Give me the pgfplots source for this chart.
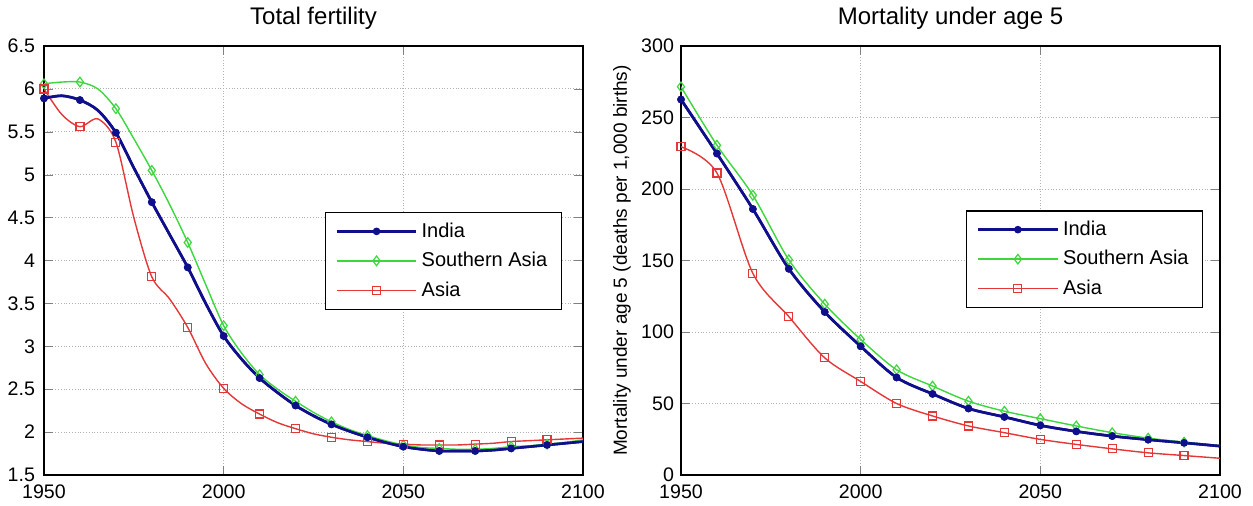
\documentclass[border=0pt]{standalone}
\usepackage{fontspec}
\setmainfont{Liberation Sans}
\usepackage{pgfplots}
\pgfplotsset{compat=1.18}
\definecolor{cIndia}{RGB}{15,15,140}
\definecolor{cSA}{RGB}{60,215,60}
\definecolor{cAsia}{RGB}{228,55,55}

\pgfplotstableread{
year india sa asia
1950 5.89 6.06 6.00
1955 5.92 6.08 5.70
1960 5.87 6.08 5.56
1965 5.75 6.00 5.65
1970 5.49 5.77 5.38
1975 5.08 5.42 4.50
1980 4.68 5.05 3.81
1985 4.30 4.65 3.55
1990 3.92 4.21 3.22
1995 3.50 3.72 2.80
2000 3.12 3.24 2.51
2005 2.85 2.92 2.33
2010 2.63 2.67 2.21
2015 2.46 2.50 2.11
2020 2.31 2.36 2.04
2025 2.19 2.23 1.98
2030 2.09 2.12 1.94
2035 2.01 2.03 1.91
2040 1.94 1.96 1.89
2045 1.88 1.90 1.87
2050 1.83 1.85 1.86
2055 1.80 1.82 1.85
2060 1.78 1.81 1.85
2065 1.78 1.80 1.85
2070 1.78 1.80 1.86
2075 1.79 1.81 1.87
2080 1.81 1.83 1.89
2085 1.83 1.84 1.90
2090 1.85 1.86 1.91
2095 1.87 1.88 1.92
2100 1.89 1.91 1.93
}\fert

\pgfplotstableread{
year india sa asia
1950 262.6 271.5 229.5
1960 224.8 230.6 211.2
1970 186.0 195.6 141.0
1980 144.2 150.5 110.8
1990 114.0 119.5 81.9
2000 90.0 94.8 65.4
2010 68.2 73.6 50.0
2020 56.7 62.2 41.3
2030 46.5 51.6 34.3
2040 40.6 44.6 29.6
2050 34.7 39.4 24.9
2060 30.5 34.3 21.4
2070 27.2 29.6 18.3
2080 24.7 25.8 15.5
2090 22.5 23.0 13.6
2100 20.2 20.5 11.7
}\mort

\pgfplotsset{
  mystyle/.style={
    scale only axis, width=269.5pt, height=214.5pt,
    xmin=1950, xmax=2100, xtick={1950,2000,2050,2100},
    grid=major, major grid style={densely dotted, gray!60, line width=0.5pt},
    tick align=inside, axis line style={line width=0.7pt},
    /pgf/number format/assume math mode=true,
    /pgf/number format/1000 sep={},
    ticklabel style={font=\fontsize{9.8}{12}\selectfont},
    xticklabel style={yshift=-1.5pt},
    title style={font=\fontsize{12}{14}\selectfont, at={(0.5,1)}, anchor=base, yshift=5pt},
    legend style={font=\fontsize{10}{12}\selectfont, draw=black, line width=0.6pt,
      inner xsep=5pt, inner ysep=3pt, row sep=2pt},
    legend cell align=left,
    legend image code/.code={\draw[mark indices={2}] plot coordinates {(0cm,0cm) (0.7cm,0cm) (1.4cm,0cm)};},
  },
  pIndia/.style={cIndia, line width=1.3pt, smooth, tension=0.5, mark=*, mark size=1.6pt, mark options={fill=cIndia, line width=0.6pt}},
  pSA/.style={cSA, line width=0.7pt, smooth, tension=0.5, mark=diamond, mark size=2.4pt, mark options={line width=0.6pt}},
  pAsia/.style={cAsia, line width=0.7pt, smooth, tension=0.5, mark=square, mark size=2pt, mark options={line width=0.6pt}},
}

\begin{document}
\begin{tikzpicture}
\path[use as bounding box] (-22pt,-15pt) rectangle (604.5pt,237.5pt);
\begin{axis}[mystyle, at={(0pt,0pt)}, anchor=south west,
  ymin=1.5, ymax=6.5, ytick={1.5,2,...,6.5},
  yticklabels={1.5,2,2.5,3,3.5,4,4.5,5,5.5,6,6.5},
  yticklabel style={xshift=-1pt},
  title={Total fertility},
  legend style={at={(0.521,0.613)}, anchor=north west}]
\addplot[pIndia, mark indices={1,3,5,7,9,11,13,15,17,19,21,23,25,27,29}] table[x=year,y=india] {\fert};
\addlegendentry{India}
\addplot[pSA, mark indices={1,3,5,7,9,11,13,15,17,19,21,23,25,27,29}] table[x=year,y=sa] {\fert};
\addlegendentry{Southern Asia\hspace{7pt}}
\addplot[pAsia, mark indices={1,3,5,7,9,11,13,15,17,19,21,23,25,27,29}] table[x=year,y=asia] {\fert};
\addlegendentry{Asia}
\addplot[pIndia, forget plot, mark indices={1,3,5,7,9,11,13,15,17,19,21,23,25,27,29}] table[x=year,y=india] {\fert};
\end{axis}
\begin{axis}[mystyle, at={(318.5pt,0pt)}, anchor=south west,
  ymin=0, ymax=300, ytick={0,50,...,300},
  title={Mortality under age 5},
  ylabel={Mortality under age 5 (deaths per 1,000 births)},
  ylabel style={font=\fontsize{9.5}{11}\selectfont, at={(axis description cs:-0.1095,0.5)}, anchor=center},
  legend style={at={(0.529,0.617)}, anchor=north west}]
\addplot[pIndia, mark indices={1,...,15}] table[x=year,y=india] {\mort};
\addlegendentry{India}
\addplot[pSA, mark indices={1,...,15}] table[x=year,y=sa] {\mort};
\addlegendentry{Southern Asia\hspace{7pt}}
\addplot[pAsia, mark indices={1,...,15}] table[x=year,y=asia] {\mort};
\addlegendentry{Asia}
\addplot[pIndia, forget plot, mark indices={1,...,15}] table[x=year,y=india] {\mort};
\end{axis}
\end{tikzpicture}
\end{document}
